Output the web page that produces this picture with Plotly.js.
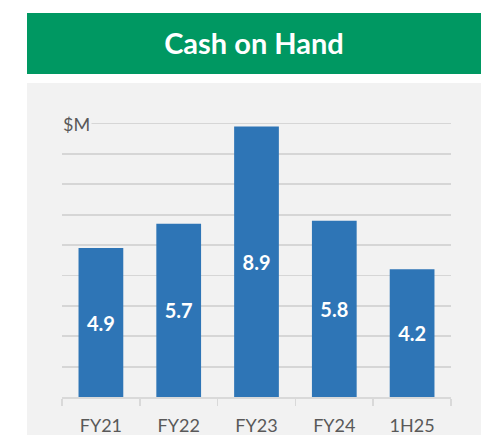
<!DOCTYPE html>
<html>
<head>
<meta charset="utf-8">
<script src="https://cdn.plot.ly/plotly-3.0.1.min.js"></script>
<style>
html,body{margin:0;padding:0;background:#fff;}
#chart{width:487px;height:435px;}
</style>
</head>
<body>
<div id="chart"></div>
<script>
const categories = ["FY21", "FY22", "FY23", "FY24", "1H25"];
const cashValues = [4.9, 5.7, 8.9, 5.8, 4.2];
const valueLabels = ["4.9", "5.7", "8.9", "5.8", "4.2"];
const chartTitle = "Cash on Hand";
const unitLabel = "$M";

const W = 487, H = 435;
const L = 62, R = 36, T = 93, B = 38;
const pw = W - L - R, ph = H - T - B;
const px = x => (x - L) / pw;
const py = y => (H - B - y) / ph;

const trace = {
  type: "bar",
  x: categories,
  y: cashValues,
  text: valueLabels,
  textposition: "inside",
  insidetextanchor: "middle",
  textangle: 0,
  texttemplate: "%{text}",
  textfont: {family: "Lato, 'Open Sans', sans-serif", size: 20, color: "#ffffff", weight: "bold"},
  marker: {color: "#2E75B6"},
  width: 0.575,
  hoverinfo: "skip"
};

const layout = {
  width: W, height: H,
  margin: {l: L, r: R, t: T, b: B, pad: 0},
  paper_bgcolor: "#ffffff",
  plot_bgcolor: "rgba(0,0,0,0)",
  showlegend: false,
  title: {
    text: "<b>" + chartTitle + "</b>",
    font: {family: "Lato, 'Open Sans', sans-serif", size: 29, color: "#ffffff"},
    x: 254 / W, xref: "container", xanchor: "center",
    y: 1 - 44 / H, yref: "container", yanchor: "middle"
  },
  xaxis: {
    type: "category",
    showgrid: false,
    showline: true, linecolor: "#d9d9d9", linewidth: 1.5,
    ticks: "outside", tickson: "boundaries", ticklen: 7, tickcolor: "#d9d9d9", tickwidth: 1.5,
    ticklabelstandoff: 12,
    tickfont: {family: "Lato, 'Open Sans', sans-serif", size: 18, color: "#595959"},
    fixedrange: true
  },
  yaxis: {
    range: [0, 10],
    dtick: 1,
    showgrid: true, gridcolor: "#d6d6d6", gridwidth: 1.8,
    showticklabels: false,
    zeroline: false,
    showline: false,
    fixedrange: true
  },
  shapes: [
    {type: "rect", xref: "paper", yref: "paper", layer: "below",
     x0: px(27), x1: px(481), y0: py(435), y1: py(83),
     fillcolor: "#f2f2f2", line: {width: 0}},
    {type: "rect", xref: "paper", yref: "paper", layer: "below",
     x0: px(27), x1: px(481), y0: py(74), y1: py(13),
     fillcolor: "#009862", line: {width: 0}}
  ],
  annotations: [
    {text: unitLabel, xref: "paper", yref: "paper", x: px(61), y: py(124),
     xanchor: "left", yanchor: "middle", showarrow: false,
     bgcolor: "#f2f2f2", borderpad: 1,
     font: {family: "Lato, 'Open Sans', sans-serif", size: 18, color: "#595959"}}
  ]
};

Plotly.newPlot("chart", [trace], layout, {displayModeBar: false, staticPlot: true});
</script>
</body>
</html>
